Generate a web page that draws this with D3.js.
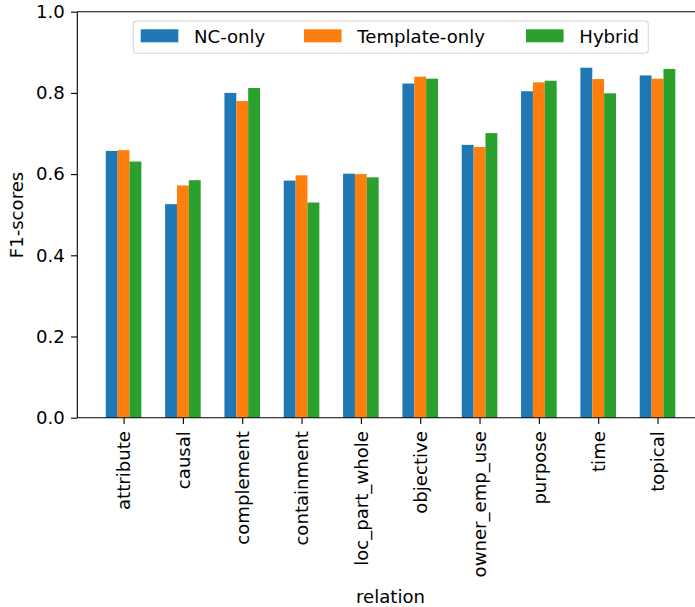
<!DOCTYPE html>
<html>
<head>
<meta charset="utf-8">
<script src="https://cdn.jsdelivr.net/npm/d3@7"></script>
<style>
  html, body { margin: 0; padding: 0; background: #fff; }
  svg { display: block; font-family: "DejaVu Sans", sans-serif; }
</style>
</head>
<body>
<svg id="chart" width="695" height="607"></svg>
<script>
const categories = ["attribute","causal","complement","containment","loc_part_whole","objective","owner_emp_use","purpose","time","topical"];
const seriesNames = ["NC-only","Template-only","Hybrid"];
const ncOnly       = [0.657,0.526,0.800,0.584,0.601,0.823,0.672,0.804,0.862,0.843];
const templateOnly = [0.659,0.572,0.780,0.597,0.600,0.840,0.667,0.826,0.834,0.835];
const hybrid       = [0.631,0.585,0.812,0.530,0.592,0.835,0.701,0.830,0.799,0.859];
const yTicks = [0.0,0.2,0.4,0.6,0.8,1.0];
const colors = ["#1f77b4","#ff7f0e","#2ca02c"];
const seriesValues = [ncOnly, templateOnly, hybrid];

const svg = d3.select("#chart");
const fs = 18.1;
const tk = 6.3;
const mLeft = 77.3, mTop = 11.7, mBottom = 417.7, mRight = 703.8;

const x = d3.scaleLinear().domain([-0.78, 9.78]).range([mLeft, mRight]);
const y = d3.scaleLinear().domain([0, 1]).range([mBottom, mTop]);
const barW = 0.2;
const offsets = [-0.2, 0, 0.2];

// bars
seriesValues.forEach((vals, s) => {
  svg.append("g").selectAll("rect").data(vals).enter().append("rect")
    .attr("x", (d, i) => x(i + offsets[s] - barW/2))
    .attr("width", (d, i) => x(i + offsets[s] + barW/2) - x(i + offsets[s] - barW/2))
    .attr("y", d => y(d))
    .attr("height", d => y(0) - y(d))
    .attr("fill", colors[s]);
});

// spines
const spine = svg.append("g").attr("stroke", "#000").attr("stroke-width", 1.1).attr("fill", "none");
spine.append("line").attr("x1", mLeft).attr("x2", mLeft).attr("y1", mTop).attr("y2", mBottom);
spine.append("line").attr("x1", mLeft).attr("x2", mRight).attr("y1", mBottom).attr("y2", mBottom);
spine.append("line").attr("x1", mLeft).attr("x2", mRight).attr("y1", mTop).attr("y2", mTop);
spine.append("line").attr("x1", mRight).attr("x2", mRight).attr("y1", mTop).attr("y2", mBottom);

// y axis
const yAxis = d3.axisLeft(y).tickValues(yTicks).tickFormat(d3.format(".1f")).tickSize(tk).tickPadding(tk);
const gy = svg.append("g").attr("transform", `translate(${mLeft},0)`).call(yAxis);
gy.select(".domain").remove();
gy.selectAll("line").attr("stroke", "#000").attr("stroke-width", 1.1);
gy.selectAll("text").attr("font-size", fs).attr("font-family", "DejaVu Sans").attr("fill", "#000");

// x axis
const xAxis = d3.axisBottom(x).tickValues(d3.range(categories.length)).tickFormat(i => categories[i]).tickSize(tk).tickPadding(tk);
const gx = svg.append("g").attr("transform", `translate(0,${mBottom})`).call(xAxis);
gx.select(".domain").remove();
gx.selectAll("line").attr("stroke", "#000").attr("stroke-width", 1.1);
gx.selectAll("text")
  .attr("font-size", fs).attr("font-family", "DejaVu Sans").attr("fill", "#000")
  .attr("text-anchor", "end")
  .attr("transform", `translate(0,${2 * tk + 0.8}) rotate(-90)`)
  .attr("x", 0).attr("y", 0).attr("dy", "0.35em");

// axis labels
svg.append("text").attr("x", 390.5).attr("y", 603).attr("text-anchor", "middle")
  .attr("font-size", fs).text("relation");
svg.append("text").attr("transform", "translate(23,215) rotate(-90)").attr("text-anchor", "middle")
  .attr("font-size", fs).text("F1-scores");

// legend
const lg = svg.append("g");
lg.append("rect").attr("x", 133.3).attr("y", 21).attr("width", 515).attr("height", 32.3)
  .attr("rx", 3.5).attr("fill", "#fff").attr("fill-opacity", 0.8).attr("stroke", "#d6d6d6").attr("stroke-width", 1.1);
const patchX = [140.7, 304, 526];
const textX = [194, 357.3, 579.3];
seriesNames.forEach((n, s) => {
  lg.append("rect").attr("x", patchX[s]).attr("y", 29.3).attr("width", 37.6).attr("height", 13).attr("fill", colors[s]);
  lg.append("text").attr("x", textX[s]).attr("y", 42.5).attr("font-size", fs).text(n);
});
</script>
</body>
</html>
